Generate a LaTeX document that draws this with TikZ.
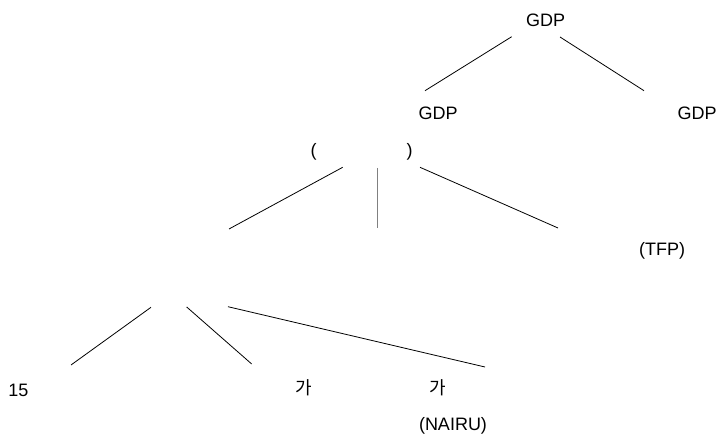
\documentclass[tikz,border=0pt]{standalone}
\usepackage{fontspec}
\setmainfont{Liberation Sans}
\newfontfamily\kofont{Noto Sans CJK KR}

\begin{document}
\begin{tikzpicture}[x=1pt, y=-1pt, font=\fontsize{18}{21}\selectfont,
    lbl/.style={anchor=base, inner sep=0pt},
    branch/.style={line width=0.8pt},
    stem/.style={line width=1.3pt, gray}]
        \useasboundingbox (0,0) rectangle (718,438);
        % labels
        \node[lbl] (gdp) at (545.5,27) {GDP};
        \node[lbl] (gdpleft) at (438,120) {GDP};
        \node[lbl] (gdpright) at (697,120) {GDP};
        \node[lbl] (openp) at (313.5,157) {(};
        \node[lbl] (closep) at (409.5,157) {)};
        \node[lbl] (tfp) at (662,256) {(TFP)};
        \node[lbl] (fifteen) at (18.5,396) {15};
        \node[lbl] (gaone) at (304,395) {\kofont 가};
        \node[lbl] (gatwo) at (438,395) {\kofont 가};
        \node[lbl] (nairu) at (453,430) {(NAIRU)};
        % branch ends
        \coordinate (a1) at (511.7,36.7);  \coordinate (a2) at (425,90.7);
        \coordinate (b1) at (560,37);      \coordinate (b2) at (644,90.7);
        \coordinate (c1) at (342.7,167.3); \coordinate (c2) at (229,229);
        \coordinate (d1) at (377.7,168);   \coordinate (d2) at (377.7,228);
        \coordinate (e1) at (420,167.3);   \coordinate (e2) at (558,228);
        \coordinate (f1) at (151,307.3);   \coordinate (f2) at (71,365);
        \coordinate (g1) at (186.7,307);   \coordinate (g2) at (251.7,364);
        \coordinate (h1) at (228,306.7);   \coordinate (h2) at (485,367);
        \draw[branch] (a1) -- (a2);
        \draw[branch] (b1) -- (b2);
        \draw[branch] (c1) -- (c2);
        \draw[stem] (d1) -- (d2);
        \draw[branch] (e1) -- (e2);
        \draw[branch] (f1) -- (f2);
        \draw[branch] (g1) -- (g2);
        \draw[branch] (h1) -- (h2);
      \end{tikzpicture}
\end{document}
